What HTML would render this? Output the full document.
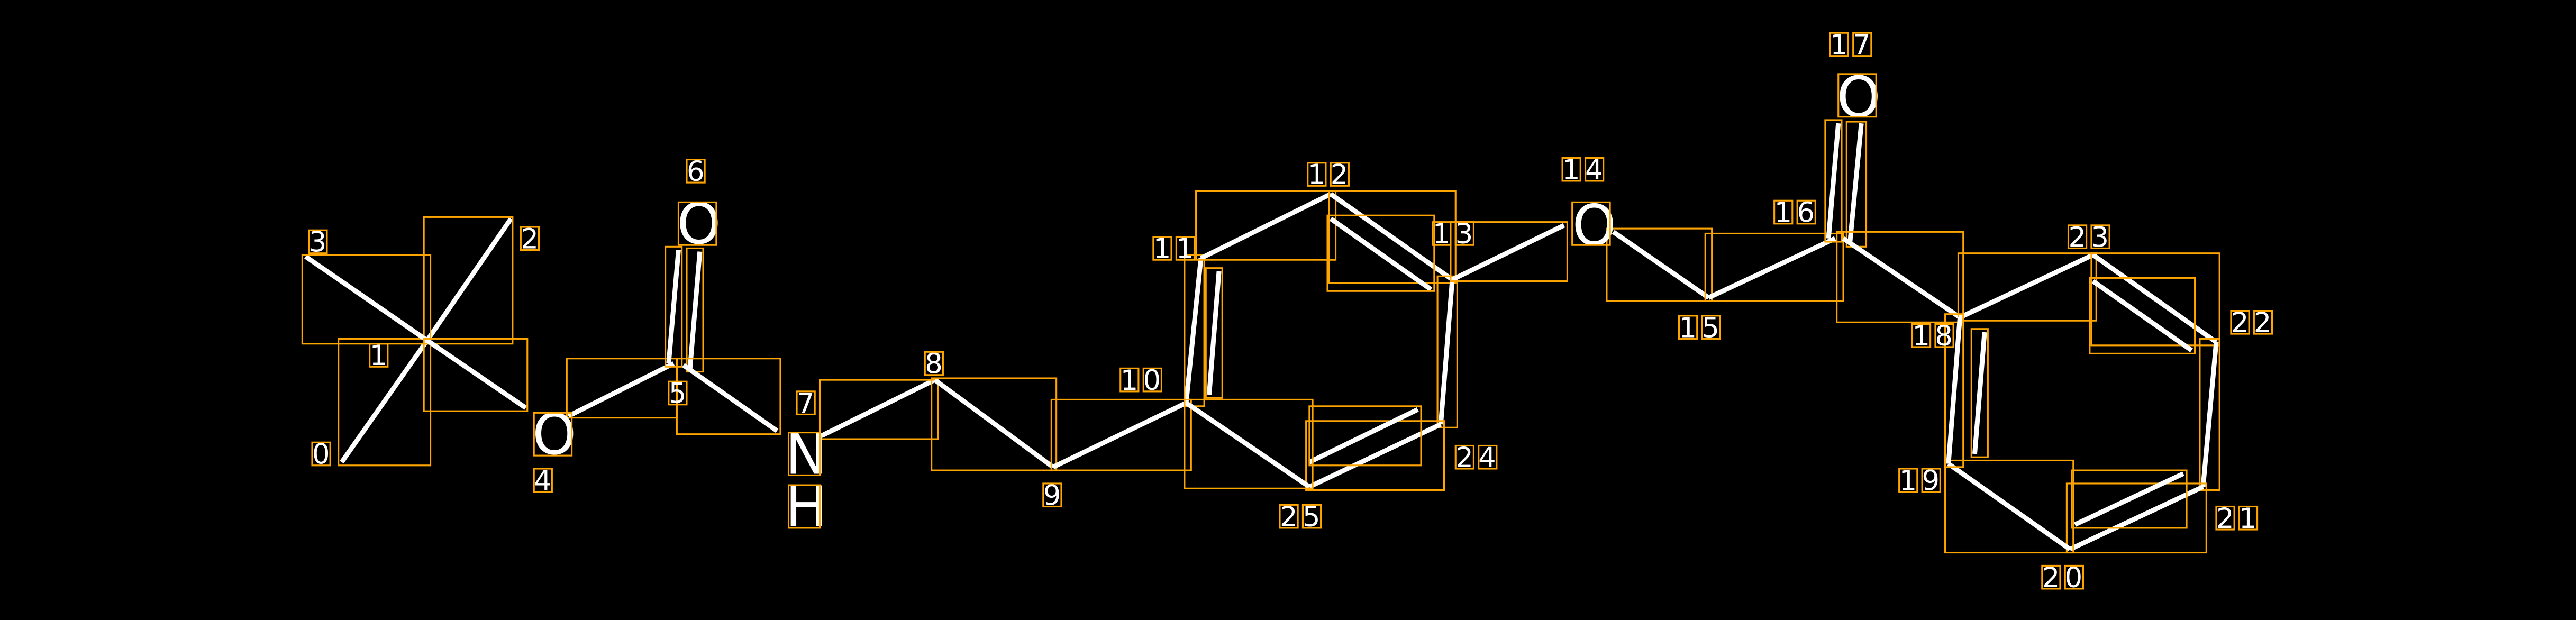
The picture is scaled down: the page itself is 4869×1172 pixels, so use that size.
<!DOCTYPE html>
<html><head><meta charset="utf-8"><style>
html,body{margin:0;padding:0;background:#000;}
svg{display:block;}
text{font-family:"DejaVu Sans","Liberation Sans",sans-serif;fill:#fff;}
.n{font-size:17px;letter-spacing:3px;}
.a{font-size:34px;}
line{stroke:#fff;stroke-width:2.9;}
rect{fill:none;stroke:#ffa500;stroke-width:1;}
</style></head><body>
<svg width="4869" height="1172" viewBox="0 0 1568 377" preserveAspectRatio="none" xmlns="http://www.w3.org/2000/svg">
<rect x="0" y="0" width="1568" height="377" style="fill:#000;stroke:none"/>
<g>
<line x1="260" y1="207" x2="208" y2="281"/><rect x="206" y="206" width="56" height="77"/>
<line x1="260" y1="207" x2="311" y2="133"/><rect x="258" y="132" width="54" height="77"/>
<line x1="260" y1="207" x2="186" y2="156"/><rect x="184" y="155" width="78" height="54"/>
<line x1="260" y1="207" x2="320" y2="248"/><rect x="258" y="206" width="63" height="44"/>
<line x1="346" y1="253" x2="410" y2="221"/><rect x="345" y="218" width="67" height="36"/>
<line x1="407" y1="221" x2="413" y2="152"/><rect x="405" y="150" width="10" height="73"/>
<line x1="420" y1="224" x2="426" y2="153"/><rect x="418" y="151" width="10" height="75"/>
<line x1="416" y1="222" x2="473" y2="262"/><rect x="412" y="218" width="63" height="46"/>
<line x1="500" y1="265" x2="569" y2="231"/><rect x="499" y="231" width="72" height="36"/>
<line x1="569" y1="231" x2="641" y2="284"/><rect x="567" y="230" width="76" height="56"/>
<line x1="641" y1="284" x2="722" y2="245"/><rect x="640" y="243" width="85" height="43"/>
<line x1="722" y1="245" x2="731" y2="157"/><rect x="721" y="155" width="12" height="92"/>
<line x1="736" y1="240" x2="742" y2="165"/><rect x="734" y="163" width="10" height="79"/>
<line x1="731" y1="157" x2="810" y2="118"/><rect x="728" y="116" width="85" height="42"/>
<line x1="810" y1="118" x2="884" y2="170"/><rect x="809" y="116" width="77" height="56"/>
<line x1="810" y1="133" x2="871" y2="176"/><rect x="808" y="131" width="65" height="46"/>
<line x1="884" y1="170" x2="877" y2="258"/><rect x="875" y="168" width="12" height="92"/>
<line x1="877" y1="258" x2="797" y2="296"/><rect x="795" y="256" width="84" height="42"/>
<line x1="797" y1="281" x2="863" y2="249"/><rect x="797" y="247" width="68" height="36"/>
<line x1="797" y1="296" x2="722" y2="245"/><rect x="721" y="243" width="78" height="54"/>
<line x1="884" y1="170" x2="952" y2="137"/><rect x="883" y="135" width="71" height="36"/>
<line x1="982" y1="141" x2="1040" y2="181"/><rect x="978" y="139" width="64" height="44"/>
<line x1="1040" y1="181" x2="1117" y2="145"/><rect x="1038" y="142" width="84" height="41"/>
<line x1="1113" y1="145" x2="1119" y2="75"/><rect x="1111" y="73" width="10" height="74"/>
<line x1="1126" y1="148" x2="1133" y2="75"/><rect x="1124" y="74" width="12" height="76"/>
<line x1="1122" y1="145" x2="1193" y2="193"/><rect x="1118" y="141" width="77" height="55"/>
<line x1="1193" y1="193" x2="1274" y2="155"/><rect x="1192" y="154" width="84" height="41"/>
<line x1="1274" y1="155" x2="1349" y2="208"/><rect x="1273" y="154" width="78" height="56"/>
<line x1="1274" y1="171" x2="1334" y2="213"/><rect x="1272" y="169" width="64" height="46"/>
<line x1="1349" y1="208" x2="1341" y2="296"/><rect x="1339" y="206" width="12" height="92"/>
<line x1="1341" y1="296" x2="1260" y2="334"/><rect x="1258" y="294" width="85" height="42"/>
<line x1="1263" y1="319" x2="1329" y2="288"/><rect x="1261" y="286" width="70" height="35"/>
<line x1="1260" y1="334" x2="1186" y2="282"/><rect x="1184" y="280" width="78" height="56"/>
<line x1="1186" y1="282" x2="1193" y2="193"/><rect x="1184" y="191" width="11" height="93"/>
<line x1="1202" y1="276" x2="1208" y2="202"/><rect x="1200" y="200" width="10" height="78"/>
</g>
<g class="a">
<text x="324" y="276">O</text><rect x="325" y="251" width="23" height="26"/>
<text x="412" y="148">O</text><rect x="413" y="123" width="23" height="26"/>
<text x="478" y="288">N</text><rect x="480" y="263" width="19" height="26"/>
<text x="478" y="320">H</text><rect x="480" y="295" width="19" height="26"/>
<text x="957" y="149">O</text><rect x="957" y="123" width="23" height="26"/>
<text x="1118" y="71">O</text><rect x="1119" y="45" width="23" height="26"/>
</g>
<g class="n">
<text x="190" y="282">0</text><rect x="190" y="269" width="11" height="14"/>
<text x="225" y="222">1</text><rect x="225" y="209" width="11" height="14"/>
<text x="317" y="151">2</text><rect x="317" y="138" width="11" height="14"/>
<text x="188" y="153">3</text><rect x="188" y="140" width="11" height="14"/>
<text x="325" y="298">4</text><rect x="325" y="285" width="11" height="14"/>
<text x="407" y="245">5</text><rect x="407" y="232" width="11" height="14"/>
<text x="418" y="110">6</text><rect x="418" y="97" width="11" height="14"/>
<text x="485" y="251">7</text><rect x="485" y="238" width="11" height="14"/>
<text x="563" y="227">8</text><rect x="563" y="214" width="11" height="14"/>
<text x="635" y="307">9</text><rect x="635" y="294" width="11" height="14"/>
<text x="682" y="237">10</text><rect x="682" y="224" width="11" height="14"/><rect x="696" y="224" width="11" height="14"/>
<text x="702" y="157">11</text><rect x="702" y="144" width="11" height="14"/><rect x="716" y="144" width="11" height="14"/>
<text x="796" y="112">12</text><rect x="796" y="99" width="11" height="14"/><rect x="810" y="99" width="11" height="14"/>
<text x="872" y="148">13</text><rect x="872" y="135" width="11" height="14"/><rect x="886" y="135" width="11" height="14"/>
<text x="951" y="109">14</text><rect x="951" y="96" width="11" height="14"/><rect x="965" y="96" width="11" height="14"/>
<text x="1022" y="205">15</text><rect x="1022" y="192" width="11" height="14"/><rect x="1036" y="192" width="11" height="14"/>
<text x="1080" y="135">16</text><rect x="1080" y="122" width="11" height="14"/><rect x="1094" y="122" width="11" height="14"/>
<text x="1114" y="33">17</text><rect x="1114" y="20" width="11" height="14"/><rect x="1128" y="20" width="11" height="14"/>
<text x="1164" y="210">18</text><rect x="1164" y="197" width="11" height="14"/><rect x="1178" y="197" width="11" height="14"/>
<text x="1156" y="298">19</text><rect x="1156" y="285" width="11" height="14"/><rect x="1170" y="285" width="11" height="14"/>
<text x="1243" y="357">20</text><rect x="1243" y="344" width="11" height="14"/><rect x="1257" y="344" width="11" height="14"/>
<text x="1349" y="321">21</text><rect x="1349" y="308" width="11" height="14"/><rect x="1363" y="308" width="11" height="14"/>
<text x="1358" y="202">22</text><rect x="1358" y="189" width="11" height="14"/><rect x="1372" y="189" width="11" height="14"/>
<text x="1259" y="150">23</text><rect x="1259" y="137" width="11" height="14"/><rect x="1273" y="137" width="11" height="14"/>
<text x="886" y="284">24</text><rect x="886" y="271" width="11" height="14"/><rect x="900" y="271" width="11" height="14"/>
<text x="779" y="320">25</text><rect x="779" y="307" width="11" height="14"/><rect x="793" y="307" width="11" height="14"/>
</g>
</svg>
</body></html>
